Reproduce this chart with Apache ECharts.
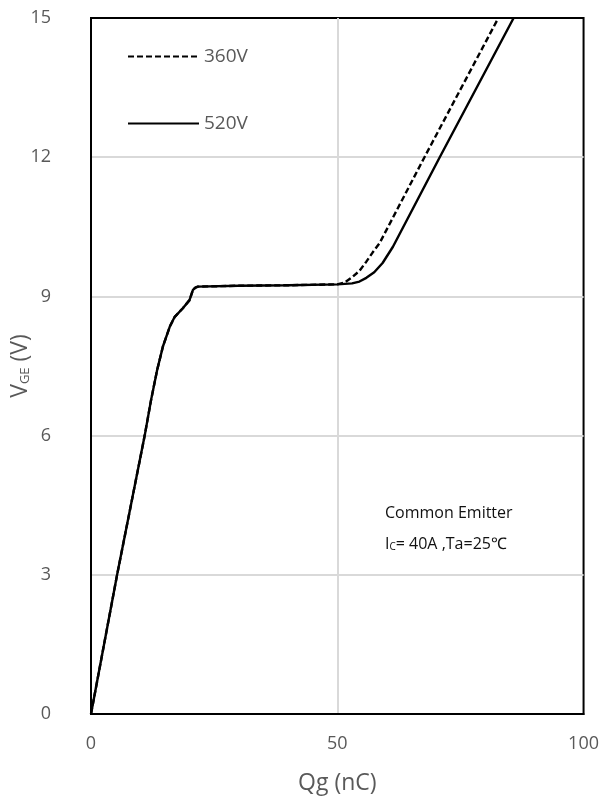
<!DOCTYPE html>
<html>
<head>
<meta charset="utf-8">
<script src="https://cdn.jsdelivr.net/npm/echarts@6/dist/echarts.min.js"></script>
<style>
  html, body { margin: 0; padding: 0; background: #fff; }
  #chart { width: 602px; height: 806px; }
</style>
</head>
<body>
<div id="chart"></div>
<script>
  // gate charge curves
  var q360 = [0, 5.3, 10.9, 12.2, 13.4, 14.6, 16.0, 17.0, 18.6, 20.0, 20.7, 21.2, 21.7, 30, 40, 50, 51.5, 53.1, 54.5, 55.9, 57.2, 58.6, 67.7, 82.7];
  var v360 = [0, 3, 6, 6.77, 7.4, 7.92, 8.35, 8.56, 8.74, 8.92, 9.14, 9.19, 9.21, 9.23, 9.24, 9.26, 9.3, 9.42, 9.55, 9.75, 9.95, 10.15, 12, 15];
  var q520 = [0, 5.3, 10.9, 12.2, 13.4, 14.6, 16.0, 17.0, 18.6, 20.0, 20.7, 21.2, 21.7, 30, 40, 50, 53, 54.5, 55.9, 57.5, 59.2, 61.3, 70.8, 85.8];
  var v520 = [0, 3, 6, 6.77, 7.4, 7.92, 8.35, 8.56, 8.74, 8.92, 9.14, 9.19, 9.21, 9.23, 9.24, 9.26, 9.28, 9.32, 9.4, 9.52, 9.72, 10.07, 12, 15];
  var seriesNames = ['360V', '520V'];
  var xTicks = [0, 100, 50];   // min, max, interval
  var yTicks = [0, 15, 3];

  function pairs(xs, ys) {
    return xs.map(function (x, i) { return [x, ys[i]]; });
  }

  var font = 'Open Sans';
  var grey = '#595959';

  var chart = echarts.init(document.getElementById('chart'));
  chart.setOption({
    animation: false,
    backgroundColor: '#fff',
    grid: {
      left: 91, right: 18, top: 18, bottom: 92,
      show: true, borderColor: '#000', borderWidth: 2
    },
    legend: {
      orient: 'vertical',
      left: 122, top: 42,
      itemWidth: 71, itemHeight: 18, itemGap: 48,
      itemStyle: { opacity: 0 },
      textStyle: { fontFamily: font, fontSize: 19, color: grey },
      data: seriesNames
    },
    xAxis: {
      type: 'value',
      min: xTicks[0], max: xTicks[1], interval: xTicks[2],
      name: 'Qg (nC)',
      nameLocation: 'middle',
      nameGap: 58,
      nameTextStyle: { fontFamily: font, fontSize: 23, color: grey },
      axisLine: { lineStyle: { color: '#000', width: 2 } },
      axisTick: { show: false },
      axisLabel: { margin: 21, fontFamily: font, fontSize: 18, color: grey },
      splitLine: { show: true, showMinLine: false, showMaxLine: false, lineStyle: { color: '#d9d9d9', width: 2 } }
    },
    yAxis: {
      type: 'value',
      min: yTicks[0], max: yTicks[1], interval: yTicks[2],
      axisLine: { lineStyle: { color: '#000', width: 2 } },
      axisTick: { show: false },
      axisLabel: { margin: 40, fontFamily: font, fontSize: 18, color: grey },
      splitLine: { show: true, showMinLine: false, showMaxLine: false, lineStyle: { color: '#d9d9d9', width: 2 } }
    },
    graphic: [
      {
        type: 'text',
        x: 20, y: 366,
        rotation: Math.PI / 2,
        style: {
          text: '{v|V}{s|GE}{v| (V)}',
          align: 'center', verticalAlign: 'middle',
          rich: {
            v: { fontFamily: font, fontSize: 23, fill: grey },
            s: { fontFamily: font, fontSize: 13, fill: grey, verticalAlign: 'bottom', padding: [9, 0, 0, 0] }
          }
        }
      },
      {
        type: 'text',
        x: 385, y: 505,
        style: {
          text: 'Common Emitter',
          fontFamily: font, fontSize: 16, fill: '#111'
        }
      },
      {
        type: 'text',
        x: 385, y: 536,
        style: {
          text: '{n|I}{s|C}{n|= 40A ,Ta=25℃}',
          rich: {
            n: { fontFamily: font, fontSize: 16, fill: '#111' },
            s: { fontFamily: font, fontSize: 10, fill: '#111', verticalAlign: 'bottom', padding: [6, 0, 0, 0] }
          }
        }
      }
    ],
    series: [
      {
        name: seriesNames[0],
        type: 'line',
        data: pairs(q360, v360),
        symbol: 'none',
        lineStyle: { color: '#000', width: 2.4, type: [6, 3] },
        itemStyle: { color: '#000' },
        z: 3
      },
      {
        name: seriesNames[1],
        type: 'line',
        data: pairs(q520, v520),
        symbol: 'none',
        lineStyle: { color: '#000', width: 2.4, type: 'solid' },
        itemStyle: { color: '#000' },
        z: 4
      }
    ]
  });
</script>
</body>
</html>
